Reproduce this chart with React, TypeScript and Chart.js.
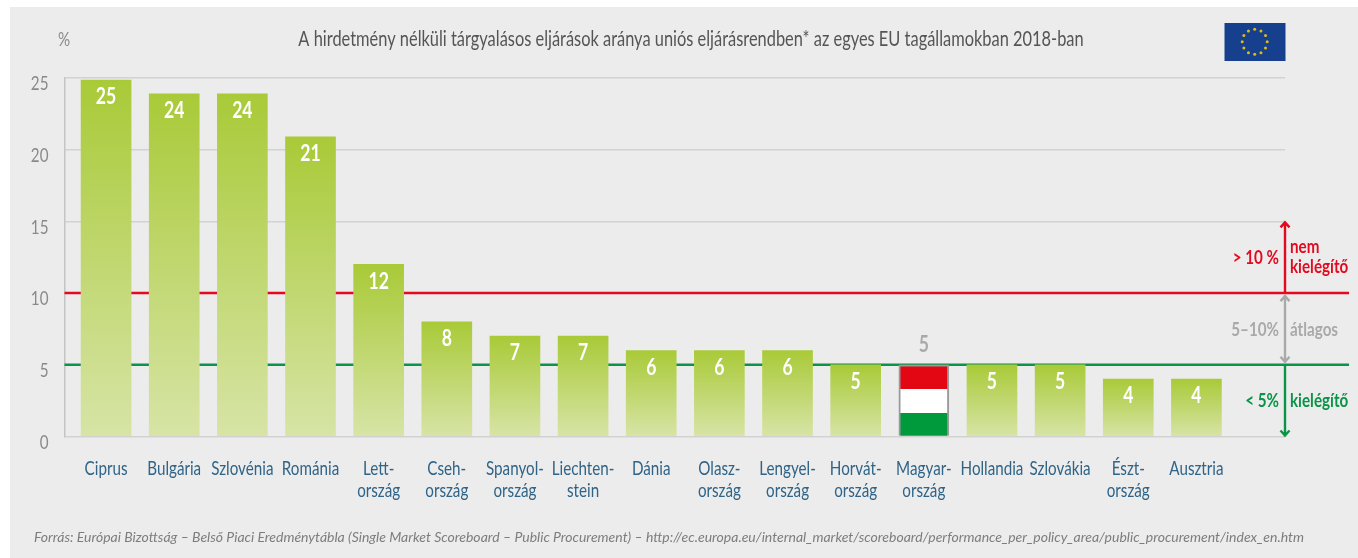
import React, { useEffect, useRef } from "react";
import { Chart, registerables } from "chart.js";

Chart.register(...registerables);

const categories: (string | string[])[] = [
  "Ciprus", "Bulgária", "Szlovénia", "Románia", ["Lett-", "ország"], ["Cseh-", "ország"],
  ["Spanyol-", "ország"], ["Liechten-", "stein"], "Dánia", ["Olasz-", "ország"], ["Lengyel-", "ország"],
  ["Horvát-", "ország"], ["Magyar-", "ország"], "Hollandia", "Szlovákia", ["Észt-", "ország"], "Ausztria",
];
const barValues = [24.85, 23.9, 23.9, 20.9, 12, 8, 7, 7, 6, 6, 6, 5, 5, 5, 5, 4, 4];
const barLabels = ["25", "24", "24", "21", "12", "8", "7", "7", "6", "6", "6", "5", "5", "5", "5", "4", "4"];
const yTicks = [0, 5, 10, 15, 20, 25];
const highlightIndex = 12;
const upperLimit = 10;
const lowerLimit = 5;
const titleText = "A hirdetmény nélküli tárgyalásos eljárások aránya uniós eljárásrendben* az egyes EU tagállamokban 2018-ban";
const sourceText = "Forrás: Európai Bizottság – Belső Piaci Eredménytábla (Single Market Scoreboard – Public Procurement) – http://ec.europa.eu/internal_market/scoreboard/performance_per_policy_area/public_procurement/index_en.htm";

const FONT = "Lato, sans-serif";
const CONDENSE = 0.8;
const RED = "#e30a20";
const GREEN = "#0a9447";
const GREY = "#a9a9a9";

function arrow(ctx: CanvasRenderingContext2D, x: number, y1: number, y2: number, color: string, up: boolean, down: boolean) {
  ctx.save();
  ctx.strokeStyle = color;
  ctx.lineWidth = 2.4;
  ctx.beginPath();
  ctx.moveTo(x, y1);
  ctx.lineTo(x, y2);
  if (up) { ctx.moveTo(x - 4.5, y1 + 6); ctx.lineTo(x, y1 + 1); ctx.lineTo(x + 4.5, y1 + 6); }
  if (down) { ctx.moveTo(x - 4.5, y2 - 6); ctx.lineTo(x, y2 - 1); ctx.lineTo(x + 4.5, y2 - 6); }
  ctx.stroke();
  ctx.restore();
}

function text(ctx: CanvasRenderingContext2D, s: string, x: number, y: number, font: string, color: string, align: CanvasTextAlign) {
  ctx.font = font;
  ctx.fillStyle = color;
  ctx.textAlign = align;
  ctx.textBaseline = "middle";
  ctx.fillText(s, x, y);
}

// The reference is set in a condensed face, which is not installed: every upright
// text is squeezed horizontally around its own anchor.
function condenseText(ctx: CanvasRenderingContext2D) {
  const original = ctx.fillText.bind(ctx);
  ctx.fillText = (s: string, x: number, y: number) => {
    const k = ctx.font.includes("italic") ? 1 : CONDENSE;
    ctx.save();
    ctx.translate(x, y);
    ctx.scale(k, 1);
    original(s, 0, 0);
    ctx.restore();
  };
}

const decorations = {
  id: "decorations",
  afterLayout(chart: any) {
    if (chart.titleBlock) {
      chart.titleBlock.left += 48.5;
      chart.titleBlock.right += 48.5;
    }
  },
  afterDatasetsDraw(chart: any) {
    const ctx: CanvasRenderingContext2D = chart.ctx;
    const y = chart.scales.y;
    ctx.save();
    const meta = chart.getDatasetMeta(0);
    meta.data.forEach((bar: any, i: number) => {
      if (i === highlightIndex) {
        text(ctx, barLabels[i], bar.x, bar.y - 20, `bold 22px ${FONT}`, GREY, "center");
      } else {
        text(ctx, barLabels[i], bar.x, bar.y + 17, `bold 22px ${FONT}`, "#ffffff", "center");
      }
    });

    const ax = chart.chartArea.right;
    arrow(ctx, ax, y.getPixelForValue(15), y.getPixelForValue(upperLimit), RED, true, false);
    arrow(ctx, ax, y.getPixelForValue(upperLimit) + 2, y.getPixelForValue(lowerLimit) - 2, GREY, true, true);
    arrow(ctx, ax, y.getPixelForValue(lowerLimit), y.getPixelForValue(0), GREEN, false, true);

    const f = `bold 19px ${FONT}`;
    const lx = ax - 6;
    const rx = ax + 5;
    const yTop = y.getPixelForValue(12.5);
    text(ctx, "> 10 %", lx, yTop + 1, f, RED, "right");
    text(ctx, "nem", rx, yTop - 10, f, RED, "left");
    text(ctx, "kielégítő", rx, yTop + 10, f, RED, "left");
    const yMid = y.getPixelForValue(7.5) + 0.5;
    text(ctx, "5–10%", lx, yMid, f, GREY, "right");
    text(ctx, "átlagos", rx, yMid, f, GREY, "left");
    const yLow = y.getPixelForValue(2.5);
    text(ctx, "< 5%", lx, yLow, f, GREEN, "right");
    text(ctx, "kielégítő", rx, yLow, f, GREEN, "left");

    text(ctx, "%", 64, 40, `19px ${FONT}`, "#8a8a8a", "center");
    text(ctx, sourceText, 34, 537, `italic 14px ${FONT}`, "#7d7d7d", "left");

    ctx.fillStyle = "#163f8e";
    ctx.fillRect(1224.5, 23, 61, 38);
    ctx.fillStyle = "#e0bb10";
    for (let k = 0; k < 12; k++) {
      const a = (k * Math.PI) / 6;
      ctx.beginPath();
      ctx.arc(1254.7 + 12.5 * Math.sin(a), 41.8 - 12.5 * Math.cos(a), 1.5, 0, Math.PI * 2);
      ctx.fill();
    }
    ctx.restore();
  },
};

export default function App() {
  const ref = useRef<HTMLCanvasElement>(null);
  useEffect(() => {
    if (!ref.current) return;
    const xEndLeft = -0.61;
    const xEndRight = 18.24;
    condenseText(ref.current.getContext("2d") as CanvasRenderingContext2D);
    const chart = new Chart(ref.current, {
      type: "bar",
      plugins: [decorations],
      data: {
        datasets: [
          {
            type: "bar",
            label: "Arány",
            order: 1,
            data: barValues.map((v, i) => ({ x: i, y: v })),
            barThickness: 50,
            borderWidth: (c: any) => (c.dataIndex === highlightIndex ? 2 : 0),
            borderColor: "#9a9a9a",
            backgroundColor: (c: any) => {
              const { ctx, scales } = c.chart;
              if (c.dataIndex === undefined || !scales.y) return "#a9ca38";
              const top = scales.y.getPixelForValue(barValues[c.dataIndex]);
              const base = scales.y.getPixelForValue(0);
              if (!Number.isFinite(top) || !Number.isFinite(base)) return "#a9ca38";
              const g = ctx.createLinearGradient(0, top, 0, base);
              if (c.dataIndex === highlightIndex) {
                g.addColorStop(0, "#e30613");
                g.addColorStop(1 / 3, "#e30613");
                g.addColorStop(1 / 3, "#ffffff");
                g.addColorStop(2 / 3, "#ffffff");
                g.addColorStop(2 / 3, "#009a3d");
                g.addColorStop(1, "#009a3d");
              } else {
                g.addColorStop(0, "#a9ca38");
                g.addColorStop(1, "#d7e4a6");
              }
              return g;
            },
          } as any,
          {
            type: "line",
            label: "> 10 %",
            order: 2,
            clip: false,
            data: [{ x: xEndLeft, y: upperLimit }, { x: xEndRight, y: upperLimit }],
            borderColor: RED,
            borderWidth: 2.5,
            pointRadius: 0,
          } as any,
          {
            type: "line",
            label: "< 5%",
            order: 2,
            clip: false,
            data: [{ x: xEndLeft, y: lowerLimit }, { x: xEndRight, y: lowerLimit }],
            borderColor: GREEN,
            borderWidth: 2.5,
            pointRadius: 0,
          } as any,
        ],
      },
      options: {
        animation: false,
        responsive: false,
        layout: { padding: { top: 27, right: 73, left: 0, bottom: 0 } },
        plugins: {
          legend: { display: false },
          tooltip: { enabled: false },
          title: {
            display: true,
            text: titleText,
            color: "#555555",
            font: { family: FONT, size: 20.5, weight: "normal" },
            padding: { top: 0, bottom: 26.4 },
          },
        },
        scales: {
          x: {
            type: "linear",
            offset: false,
            min: xEndLeft,
            max: 17.3,
            grid: { display: false },
            border: { display: false },
            afterFit: (s: any) => { s.height = 121.5; },
            afterBuildTicks: (s: any) => { s.ticks = categories.map((_, i) => ({ value: i })); },
            ticks: {
              autoSkip: false,
              maxRotation: 0,
              padding: 13,
              color: "#2f6488",
              font: { family: FONT, size: 19, lineHeight: 1.16 },
              callback: (v: any) => categories[v as number],
            },
          },
          y: {
            min: 0,
            max: 25,
            afterFit: (s: any) => { s.width = 64.5; },
            afterBuildTicks: (s: any) => { s.ticks = yTicks.map((value) => ({ value })); },
            grid: { color: "#d2d2d2", lineWidth: 1.5, drawTicks: false },
            border: { display: true, color: "#c4c4c4", width: 1.5 },
            ticks: {
              padding: 16,
              labelOffset: 6,
              color: "#8a8a8a",
              font: { family: FONT, size: 19 },
            },
          },
        },
      },
    } as any);
    return () => chart.destroy();
  }, []);
  return (
    <div style={{ position: "absolute", left: 0, top: 0, width: 1358, height: 558, overflow: "hidden", background: "#ffffff" }}>
      <div style={{ position: "absolute", left: 10, top: 7, width: 1348, height: 551, background: "#ececec" }} />
      <canvas ref={ref} width={1358} height={558} style={{ position: "absolute", left: 0, top: 0, display: "block" }} />
    </div>
  );
}
